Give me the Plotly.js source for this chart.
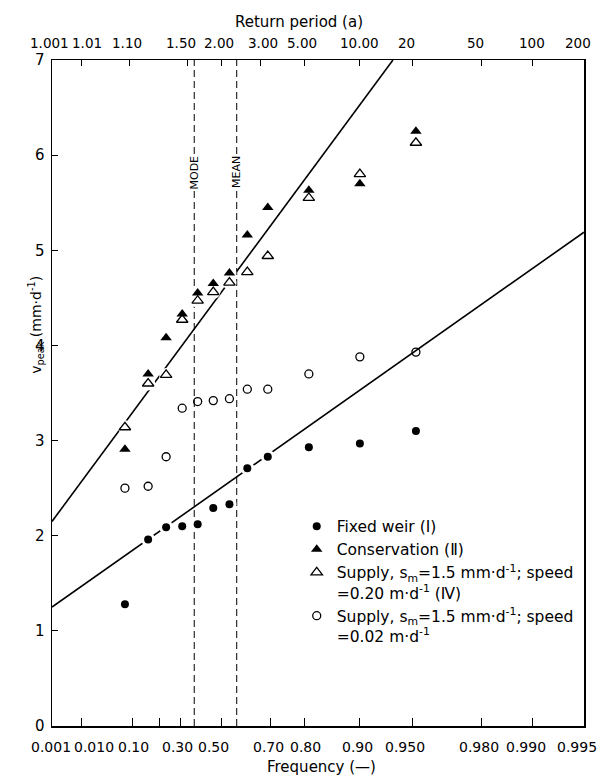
<!DOCTYPE html>
<html><head><meta charset="utf-8">
<script src="https://cdn.plot.ly/plotly-3.0.1.min.js"></script>
<style>html,body{margin:0;padding:0;background:#fff}#chart{width:606px;height:777px}</style>
</head><body><div id="chart"></div>
<script>
// Plotting positions (non-exceedance frequency) of the 12 ranked annual peaks
const frequency    = [0.077, 0.154, 0.231, 0.308, 0.385, 0.462, 0.538, 0.615, 0.692, 0.81, 0.90, 0.952];
const fixedWeir    = [1.28, 1.96, 2.09, 2.10, 2.12, 2.29, 2.33, 2.71, 2.83, 2.93, 2.97, 3.10];
const conservation = [2.91, 3.70, 4.08, 4.33, 4.55, 4.65, 4.76, 5.16, 5.45, 5.63, 5.70, 6.25];
const supplyFast   = [3.14, 3.60, 3.69, 4.27, 4.47, 4.56, 4.66, 4.77, 4.94, 5.55, 5.80, 6.13];
const supplySlow   = [2.50, 2.52, 2.83, 3.34, 3.41, 3.42, 3.44, 3.54, 3.54, 3.70, 3.88, 3.93];

// Fitted Gumbel lines: end points (frequency, value)
const fitLowerFreq = [0.001, 0.995];
const fitLowerVal  = [1.25, 5.19];
const fitUpperFreq = [0.001, 0.935];
const fitUpperVal  = [2.15, 7.0];

// Axis ticks
const freqTicks   = [0.001, 0.01, 0.1, 0.2, 0.3, 0.5, 0.7, 0.8, 0.9, 0.95, 0.98, 0.99, 0.995];
const freqLabels  = ['0.001','0.010','0.10','','0.30','0.50','0.70','0.80','0.90','0.950','0.980','0.990','0.995'];
const freqShift   = [-1, 12, 1, 0, -3, -8, -2, 1, -2, -8, -2, -7, -7];
const returnTicks  = [1.001, 1.01, 1.1, 1.5, 2, 3, 5, 10, 20, 50, 100, 200];
const returnLabels = ['1.001','1.01','1.10','1.50','2.00','3.00','5.00','10.00','20','50','100','200'];
const returnShift  = [-3, 5, -3, -6, -2, 2, -3, 0, -6, -6, -1, -6];
const yTicks = [0, 1, 2, 3, 4, 5, 6, 7];

// Gumbel reduced variate
const g = F => -Math.log(-Math.log(F));
const xMin = g(0.001), xMax = g(0.995);
const clampX = v => Math.min(Math.max(v, xMin), xMax);
const EULER = 0.5772;

const FONT = 'DejaVu Sans, Noto Sans, sans-serif';
const X = frequency.map(g);

const traces = [
  {x: fitLowerFreq.map(g), y: fitLowerVal, mode: 'lines', line: {color: 'black', width: 1.6}, showlegend: false, hoverinfo: 'skip'},
  {x: fitUpperFreq.map(g), y: fitUpperVal, mode: 'lines', line: {color: 'black', width: 1.6}, showlegend: false, hoverinfo: 'skip'},
  {x: X.concat(X, X), y: fixedWeir.concat(conservation, supplyFast), mode: 'markers',
   marker: {color: 'white', size: 14, symbol: 'circle'}, showlegend: false, hoverinfo: 'skip'},
  {x: X, y: fixedWeir, mode: 'markers', name: 'Fixed weir (Ⅰ)',
   marker: {symbol: 'circle', color: 'black', size: 8}},
  {x: X, y: conservation, mode: 'markers', name: 'Conservation (Ⅱ)',
   marker: {symbol: 'triangle-up', color: 'black', size: 10}},
  {x: X, y: supplyFast, mode: 'markers',
   name: 'Supply, s<sub>m</sub>=1.5 mm·d<sup>-1</sup>; speed<br>=0.20 m·d<sup>-1</sup> (Ⅳ)',
   marker: {symbol: 'triangle-up-open', color: 'black', size: 10, line: {width: 1.3}}},
  {x: X, y: supplySlow, mode: 'markers',
   name: 'Supply, s<sub>m</sub>=1.5 mm·d<sup>-1</sup>; speed<br>=0.02 m·d<sup>-1</sup>',
   marker: {symbol: 'circle-open', color: 'black', size: 8, line: {width: 1.3}}},
  {x: [xMin, xMax], y: [null, null], xaxis: 'x2', mode: 'markers', showlegend: false, hoverinfo: 'skip'}
];

const annotations = [];
freqTicks.forEach((f, i) => {
  if (!freqLabels[i]) return;
  annotations.push({x: clampX(g(f)), xref: 'x', y: 0, yref: 'paper', yanchor: 'top', yshift: -11,
    xshift: freqShift[i], text: freqLabels[i], showarrow: false, font: {family: FONT, size: 14, color: 'black'}});
});
returnTicks.forEach((T, i) => {
  annotations.push({x: clampX(g(1 - 1 / T)), xref: 'x', y: 1, yref: 'paper', yanchor: 'bottom', yshift: 7,
    xshift: returnShift[i], text: returnLabels[i], showarrow: false, font: {family: FONT, size: 13.5, color: 'black'}});
});
annotations.push(
  {x: 0.464, xref: 'paper', y: 1, yref: 'paper', yanchor: 'middle', yshift: 38,
   text: 'Return period (a)', showarrow: false, font: {family: FONT, size: 15, color: 'black'}},
  {x: 0.506, xref: 'paper', y: 0, yref: 'paper', yanchor: 'middle', yshift: -41,
   text: 'Frequency (—)', showarrow: false, font: {family: FONT, size: 15, color: 'black'}},
  {x: -0.053, xref: 'paper', y: 0.602, yref: 'paper', textangle: -90,
   text: 'v<sub>peak</sub> (mm·d<sup>-1</sup>)', showarrow: false, font: {family: FONT, size: 14, color: 'black'}},
  {x: 0, xref: 'x', y: 5.82, yref: 'y', textangle: -90, text: 'MODE', showarrow: false,
   bgcolor: 'white', borderpad: 1, font: {family: FONT, size: 11, color: 'black'}},
  {x: EULER, xref: 'x', y: 5.82, yref: 'y', textangle: -90, text: 'MEAN', showarrow: false,
   bgcolor: 'white', borderpad: 1, font: {family: FONT, size: 11, color: 'black'}}
);

const layout = {
  width: 606, height: 777,
  margin: {l: 52, r: 22, t: 60, b: 51},
  paper_bgcolor: 'white', plot_bgcolor: 'white',
  font: {family: FONT, color: 'black', size: 14},
  showlegend: true,
  legend: {x: 0.46, y: 0.325, xanchor: 'left', yanchor: 'top', bgcolor: 'rgba(0,0,0,0)',
           font: {family: FONT, size: 15.5, color: 'black'}, valign: 'top', traceorder: 'normal'},
  xaxis: {range: [xMin, xMax], tickvals: freqTicks.map(g), showticklabels: false,
          ticks: 'inside', ticklen: 8, tickwidth: 1.2, tickcolor: 'black',
          showline: true, linecolor: 'black', linewidth: 1.5, showgrid: false, zeroline: false, fixedrange: true},
  xaxis2: {range: [xMin, xMax], overlaying: 'x', side: 'top', anchor: 'y',
           tickvals: returnTicks.map(T => g(1 - 1 / T)), showticklabels: false,
           ticks: 'inside', ticklen: 6, tickwidth: 1.2, tickcolor: 'black',
           showline: true, linecolor: 'black', linewidth: 1.5, showgrid: false, zeroline: false},
  yaxis: {range: [0, 7], tickvals: yTicks, ticks: 'inside', ticklen: 6, tickwidth: 1.2, tickcolor: 'black',
          showline: true, mirror: true, linecolor: 'black', linewidth: 1.5, showgrid: false, zeroline: false,
          tickfont: {family: FONT, size: 15, color: 'black'}, ticklabelstandoff: 3},
  shapes: [
    {type: 'line', xref: 'x', yref: 'y', x0: 0, x1: 0, y0: 0, y1: 7, layer: 'below',
     line: {color: 'black', width: 1, dash: '7px,4px'}},
    {type: 'line', xref: 'x', yref: 'y', x0: EULER, x1: EULER, y0: 0, y1: 7, layer: 'below',
     line: {color: 'black', width: 1, dash: '7px,4px'}}
  ],
  annotations: annotations
};

Plotly.newPlot('chart', traces, layout, {staticPlot: true, displayModeBar: false});
</script></body></html>
